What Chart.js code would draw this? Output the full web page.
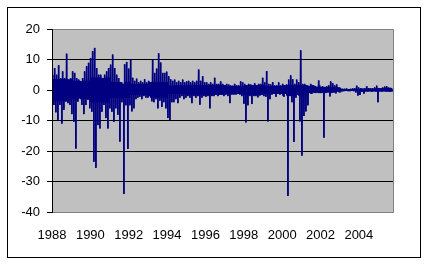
<!DOCTYPE html>
<html><head><meta charset="utf-8">
<script src="https://cdn.jsdelivr.net/npm/chart.js@4.4.1/dist/chart.umd.min.js"></script>
<style>html,body{margin:0;padding:0;background:#fff}canvas{display:block}</style>
</head><body>
<canvas id="c" width="428" height="265"></canvas>
<script>
// Envelope of the series: each bin holds the highest and lowest value.
const startYear = 1988.02;
const binYears = 0.1043;
const hiVals = [5.0,7.2,5.0,8.1,3.9,6.1,3.9,11.9,3.4,3.9,6.1,5.6,3.9,3.4,2.8,3.9,6.1,7.8,8.9,10.5,
12.7,13.8,7.2,5.0,5.0,3.9,5.0,6.1,7.2,8.3,11.6,7.2,5.0,3.9,2.5,2.0,8.4,9.2,7.0,10.0,
4.0,3.0,3.7,2.5,3.0,2.5,3.5,2.5,3.0,2.5,9.8,5.6,7.0,12.0,9.0,5.6,5.6,6.0,4.5,3.5,
3.0,3.4,2.5,3.0,2.5,3.4,2.5,2.8,3.0,2.5,3.0,2.5,3.0,6.7,3.0,4.5,2.5,2.5,2.0,2.5,
2.0,4.0,2.0,2.0,2.8,2.0,1.5,2.0,1.8,1.5,1.4,2.0,1.5,1.5,2.8,2.5,2.0,1.5,2.0,1.8,
1.5,2.2,1.5,2.0,2.0,4.0,2.5,6.2,2.0,1.8,2.6,1.5,1.5,2.5,1.5,2.0,1.5,1.8,3.4,4.8,
3.5,2.0,3.4,2.5,13.0,2.0,2.0,1.5,1.2,2.0,1.6,1.2,1.0,3.1,1.0,1.2,1.0,1.2,1.5,2.8,
2.2,1.5,1.8,0.8,0.5,0.4,0.4,0.5,0.3,0.4,0.5,0.6,1.4,0.8,0.6,0.4,0.5,1.2,0.6,0.5,
0.5,0.8,1.4,0.6,0.5,0.8,1.1,1.2,0.8,0.7];
const loVals = [-4.9,-7.3,-9.8,-4.9,-11.0,-6.5,-3.8,-4.3,-4.9,-7.9,-10.4,-19.2,-3.8,-2.7,-4.9,-7.9,-4.9,-3.2,-6.0,-7.1,
-23.5,-25.5,-11.5,-12.6,-7.1,-4.9,-9.2,-12.6,-6.0,-7.1,-10.4,-6.0,-8.1,-16.9,-4.0,-34.1,-5.0,-19.3,-5.0,-7.0,
-6.0,-3.0,-2.5,-2.2,-3.0,-2.0,-2.5,-2.5,-2.0,-3.7,-4.0,-3.0,-6.0,-3.5,-5.5,-4.0,-6.0,-9.2,-9.8,-4.0,
-4.0,-3.0,-4.3,-2.5,-2.0,-3.0,-2.5,-2.0,-2.5,-4.3,-2.0,-2.5,-2.0,-4.8,-2.5,-2.0,-2.2,-2.0,-6.0,-2.0,
-2.0,-1.5,-2.0,-1.5,-1.5,-2.0,-1.5,-2.0,-4.3,-1.5,-1.5,-1.5,-1.2,-1.5,-2.0,-4.5,-10.6,-5.0,-2.0,-4.6,
-2.0,-2.0,-2.4,-1.8,-1.5,-2.0,-2.2,-10.3,-3.0,-1.5,-1.3,-2.2,-1.2,-1.5,-1.3,-2.2,-1.2,-34.7,-2.0,-4.0,
-17.0,-2.5,-1.5,-10.3,-21.5,-8.5,-7.0,-5.0,-1.0,-1.2,-0.8,-1.0,-0.8,-1.0,-1.0,-15.6,-1.0,-0.8,-2.1,-1.0,
-0.8,-1.1,-0.5,-0.8,-0.5,-0.4,-0.3,-0.4,-0.4,-0.3,-0.4,-0.8,-1.8,-1.6,-0.6,-1.2,-0.5,-0.5,-0.4,-0.6,
-0.4,-0.5,-4.0,-0.5,-0.5,-0.4,-0.5,-0.5,-0.6,-0.5];
// Dense core band for each calendar year 1988..2005.
const coreHi = [3.5,3.0,4.0,2.5,1.8,2.5,1.4,1.5,1.5,1.2,1.5,1.2,1.5,1.5,0.8,0.3,0.4,0.5];
const coreLo = [-3.5,-3.0,-4.0,-2.5,-1.6,-2.5,-1.3,-1.5,-1.5,-1.2,-1.5,-1.2,-1.8,-1.5,-0.7,-0.3,-0.4,-0.4];
const xTicks = [1988,1990,1992,1994,1996,1998,2000,2002,2004];
const yTicks = [-40,-30,-20,-10,0,10,20];

const points = [];
for (let i = 0; i < hiVals.length; i++) {
  const t = startYear + i * binYears;
  const yr = Math.min(coreHi.length - 1, Math.floor(t - 1988));
  const cH = Math.min(coreHi[yr], hiVals[i]);
  const cL = Math.max(coreLo[yr], loVals[i]);
  points.push({x: t, y: hiVals[i]});
  points.push({x: t + binYears * 0.25, y: cL});
  points.push({x: t + binYears * 0.5, y: cH});
  points.push({x: t + binYears * 0.75, y: loVals[i]});
}

const frame = {
  id: 'frame',
  beforeDraw(chart) {
    const {ctx, chartArea: a} = chart;
    ctx.save();
    ctx.fillStyle = '#fff';
    ctx.fillRect(0, 0, chart.width, chart.height);
    ctx.strokeStyle = '#000';
    ctx.lineWidth = 1;
    ctx.strokeRect(7.5, 7.5, 413, 250);
    ctx.fillStyle = '#C0C0C0';
    ctx.fillRect(a.left, a.top, a.right - a.left, a.bottom - a.top);
    ctx.restore();
  },
  afterDraw(chart) {
    const {ctx, chartArea: a} = chart;
    ctx.save();
    ctx.strokeStyle = '#808080';
    ctx.lineWidth = 1;
    ctx.beginPath();
    ctx.moveTo(a.left, Math.round(a.top) + 0.5);
    ctx.lineTo(Math.round(a.right) + 0.5, Math.round(a.top) + 0.5);
    ctx.lineTo(Math.round(a.right) + 0.5, Math.round(a.bottom) + 0.5);
    ctx.lineTo(a.left, Math.round(a.bottom) + 0.5);
    ctx.stroke();
    ctx.strokeStyle = '#000';
    ctx.beginPath();
    ctx.moveTo(Math.round(a.left) + 0.5, a.top);
    ctx.lineTo(Math.round(a.left) + 0.5, Math.round(a.bottom) + 1);
    ctx.stroke();
    ctx.restore();
  }
};

new Chart(document.getElementById('c'), {
  type: 'line',
  data: {datasets: [{data: points, borderColor: '#000080', borderWidth: 1, pointRadius: 0, tension: 0, fill: false}]},
  plugins: [frame],
  options: {
    responsive: false, animation: false, events: [],
    layout: {padding: {left: 0, right: 35, top: 29, bottom: 0}},
    plugins: {legend: {display: false}, tooltip: {enabled: false}},
    scales: {
      x: {
        type: 'linear', min: 1988, max: 2005.78,
        afterBuildTicks: s => { s.ticks = xTicks.map(v => ({value: v})); },
        afterFit: s => { s.height = 53; },
        grid: {display: false, drawTicks: false},
        border: {display: false},
        ticks: {padding: 16, maxRotation: 0, autoSkip: false, color: '#000',
          font: {family: 'Liberation Sans, Arial', size: 13}, callback: v => String(v)}
      },
      y: {
        type: 'linear', min: -40, max: 20,
        afterBuildTicks: s => { s.ticks = yTicks.map(v => ({value: v})); },
        afterFit: s => { s.width = 52; },
        grid: {color: c => (c.tick && (c.tick.value === 20 || c.tick.value === -40)) ? 'rgba(0,0,0,0)' : '#000',
               tickColor: '#000', tickLength: 5, lineWidth: 1},
        border: {display: false},
        ticks: {padding: 7, color: '#000', font: {family: 'Liberation Sans, Arial', size: 13}, callback: v => String(v)}
      }
    }
  }
});
</script>
</body></html>
